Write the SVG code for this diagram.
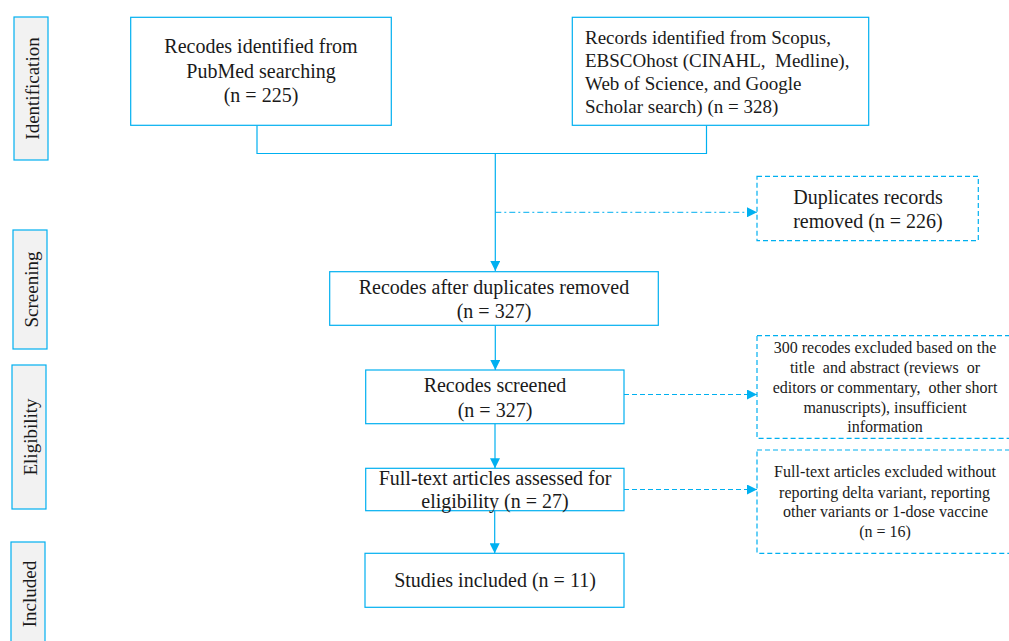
<svg xmlns="http://www.w3.org/2000/svg" width="1009" height="641" viewBox="0 0 1009 641">
<style>
text{font-family:"Liberation Serif","Times New Roman",serif;fill:#1a1a1a}
.t{font-size:20px}
.t2{font-size:19px}
.v{font-size:19px}
.s{font-size:16px}
.box{fill:#fff;stroke:#00b0f0;stroke-width:1.2}
.dbox{fill:#fff;stroke:#00b0f0;stroke-width:1.2;stroke-dasharray:5 3}
.side{fill:#f2f2f2;stroke:#00b0f0;stroke-width:1.2}
.ln{fill:none;stroke:#00b0f0;stroke-width:1.2}
.dl{fill:none;stroke:#00b0f0;stroke-width:1;stroke-dasharray:5 3}
.dd{fill:none;stroke:#00b0f0;stroke-width:1;stroke-dasharray:6 3 2 3}
</style>
<defs>
<marker id="ah" viewBox="0 0 10 10" refX="10" refY="5" markerWidth="10" markerHeight="10" markerUnits="userSpaceOnUse" orient="auto">
<path d="M0,0 L10,5 L0,10 Z" fill="#00b0f0"/>
</marker>
</defs>
<rect width="1009" height="641" fill="#fff"/>

<g id="side-identification"><rect class="side" x="14" y="17" width="34" height="143"/><text class="v" transform="translate(38.5,88.5) rotate(-90)" text-anchor="middle">Identification</text></g>
<g id="side-screening"><rect class="side" x="13" y="230" width="34" height="119"/><text class="v" transform="translate(37.5,289.5) rotate(-90)" text-anchor="middle">Screening</text></g>
<g id="side-eligibility"><rect class="side" x="12" y="365" width="34" height="144"/><text class="v" transform="translate(36.5,437) rotate(-90)" text-anchor="middle">Eligibility</text></g>
<g id="side-included"><rect class="side" x="11" y="542" width="34" height="110"/><text class="v" transform="translate(35.5,594) rotate(-90)" text-anchor="middle">Included</text></g>

<g id="connectors">
<path class="ln" d="M257,125.5 V153.5 H706.5 V125.5"/>
<path class="ln" d="M495.3,153.5 V271" marker-end="url(#ah)"/>
<path class="dd" d="M495.3,212.3 H757" marker-end="url(#ah)"/>
<path class="ln" d="M495.3,325.5 V370" marker-end="url(#ah)"/>
<path class="dl" d="M624,394.5 H757" marker-end="url(#ah)"/>
<path class="ln" d="M495,424 V468.3" marker-end="url(#ah)"/>
<path class="dl" d="M624,489.5 H757" marker-end="url(#ah)"/>
<path class="ln" d="M494.7,510.8 V553.3" marker-end="url(#ah)"/>
</g>

<g id="n1"><rect class="box" x="130.7" y="17.3" width="260.6" height="108"/>
<text class="t" x="261" y="53" text-anchor="middle">Recodes identified from</text>
<text class="t" x="261" y="78" text-anchor="middle">PubMed searching</text>
<text class="t" x="261" y="102" text-anchor="middle">(n = 225)</text></g>

<g id="n2"><rect class="box" x="572.3" y="17.3" width="296.4" height="108"/>
<text class="t2" x="585" y="43.5">Records identified from Scopus,</text>
<text class="t2" x="585" y="66.5" xml:space="preserve">EBSCOhost (CINAHL,  Medline),</text>
<text class="t2" x="585" y="90">Web of Science, and Google</text>
<text class="t2" x="585" y="113">Scholar search) (n = 328)</text></g>

<g id="n3"><rect class="dbox" x="757" y="176.3" width="221.3" height="64.4"/>
<text class="t" x="868" y="203.5" text-anchor="middle">Duplicates records</text>
<text class="t" x="868" y="228" text-anchor="middle">removed (n = 226)</text></g>

<g id="n4"><rect class="box" x="329.7" y="271.7" width="328.6" height="53.6"/>
<text class="t" x="494" y="293.5" text-anchor="middle">Recodes after duplicates removed</text>
<text class="t" x="494" y="318" text-anchor="middle">(n = 327)</text></g>

<g id="n5"><rect class="box" x="365.7" y="370" width="258.3" height="53.7"/>
<text class="t" x="495" y="391.7" text-anchor="middle">Recodes screened</text>
<text class="t" x="495" y="416.7" text-anchor="middle">(n = 327)</text></g>

<g id="n6"><rect class="dbox" x="757" y="335.7" width="260" height="102.6"/>
<text class="s" x="885" y="353" text-anchor="middle">300 recodes excluded based on the</text>
<text class="s" x="885" y="373" text-anchor="middle" xml:space="preserve">title  and abstract (reviews  or</text>
<text class="s" x="885" y="392.7" text-anchor="middle" xml:space="preserve">editors or commentary,  other short</text>
<text class="s" x="885" y="412.5" text-anchor="middle">manuscripts), insufficient</text>
<text class="s" x="885" y="431.7" text-anchor="middle">information</text></g>

<g id="n7"><rect class="box" x="365.7" y="468.3" width="258.3" height="42.4"/>
<text class="t" x="495" y="485" text-anchor="middle">Full-text articles assessed for</text>
<text class="t" x="495" y="508" text-anchor="middle">eligibility (n = 27)</text></g>

<g id="n8"><rect class="dbox" x="757" y="450" width="260" height="103.3"/>
<text class="s" x="774" y="477.3" textLength="222" lengthAdjust="spacing">Full-text articles excluded without</text>
<text class="s" x="779" y="498" textLength="211" lengthAdjust="spacing">reporting delta variant, reporting</text>
<text class="s" x="783" y="517.3" textLength="205" lengthAdjust="spacing">other variants or 1-dose vaccine</text>
<text class="s" x="885" y="537.3" text-anchor="middle">(n = 16)</text></g>

<g id="n9"><rect class="box" x="365" y="553.3" width="259" height="54"/>
<text class="t" x="495" y="586.7" text-anchor="middle">Studies included (n = 11)</text></g>
</svg>
